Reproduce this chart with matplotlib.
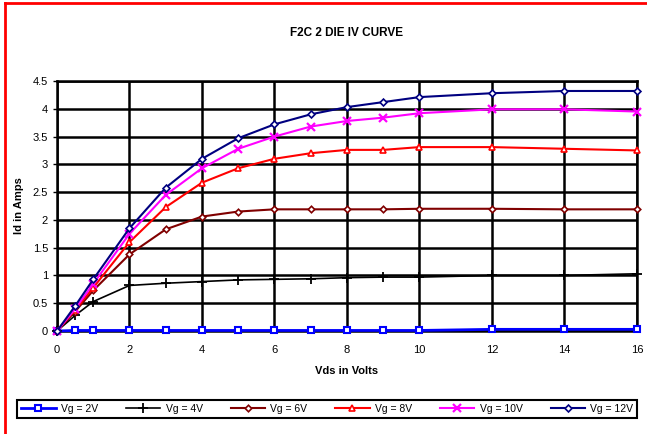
import numpy as np
import matplotlib.pyplot as plt
from matplotlib.lines import Line2D

plt.rcParams['font.family'] = ['Liberation Sans', 'DejaVu Sans']

# drain voltage points (V)
vds = [0, 0.5, 1, 2, 3, 4, 5, 6, 7, 8, 9, 10, 12, 14, 16]

# drain current (A) per gate voltage
id_vg2 = [0, 0.01, 0.01, 0.01, 0.01, 0.01, 0.01, 0.01, 0.01, 0.01, 0.01, 0.01, 0.03, 0.03, 0.03]
id_vg4 = [0, 0.28, 0.53, 0.82, 0.86, 0.89, 0.92, 0.93, 0.94, 0.96, 0.97, 0.97, 1.0, 1.0, 1.03]
id_vg6 = [0, 0.35, 0.73, 1.38, 1.83, 2.06, 2.15, 2.19, 2.19, 2.19, 2.19, 2.2, 2.2, 2.19, 2.19]
id_vg8 = [0, 0.38, 0.78, 1.6, 2.23, 2.67, 2.93, 3.1, 3.2, 3.26, 3.26, 3.31, 3.31, 3.28, 3.25]
id_vg10 = [0, 0.4, 0.85, 1.75, 2.45, 2.93, 3.28, 3.5, 3.68, 3.78, 3.84, 3.92, 3.99, 3.99, 3.95]
id_vg12 = [0, 0.45, 0.93, 1.85, 2.58, 3.1, 3.47, 3.72, 3.9, 4.03, 4.12, 4.21, 4.28, 4.32, 4.32]

labels = ['Vg = 2V', 'Vg = 4V', 'Vg = 6V', 'Vg = 8V', 'Vg = 10V', 'Vg = 12V']

xticks = [0, 2, 4, 6, 8, 10, 12, 14, 16]
yticks = [0, 0.5, 1, 1.5, 2, 2.5, 3, 3.5, 4, 4.5]


fig = plt.figure(figsize=(6.47, 4.34), dpi=100)
ax = fig.add_axes([0.0881, 0.2373, 0.8964, 0.5761])

series = [id_vg2, id_vg4, id_vg6, id_vg8, id_vg10, id_vg12]
styles = [
    dict(color='#0000ff', marker='s', ms=4.5, mfc='white', mew=1.5, lw=2.0),
    dict(color='black', marker='+', ms=7, mew=1.3, lw=1.2),
    dict(color='#800000', marker='D', ms=3.3, mfc='white', mew=1.2, lw=1.5),
    dict(color='#ff0000', marker='^', ms=4.5, mfc='white', mew=1.2, lw=1.5),
    dict(color='#ff00ff', marker='x', ms=6, mew=1.6, lw=1.5),
    dict(color='#000080', marker='D', ms=3.5, mfc='white', mew=1.2, lw=1.5),
]
for vals, lab, st in zip(series, labels, styles):
    ax.plot(vds, vals, label=lab, clip_on=False, zorder=3, **st)

ax.set_xlim(0, 16)
ax.set_ylim(0, 4.5)
ax.set_xticks(xticks)
ax.set_xticklabels([str(t) for t in xticks])
ax.set_yticks(yticks)
ax.set_yticklabels([f'{t:g}' for t in yticks])
ax.grid(True, color='black', lw=1.8)
ax.set_axisbelow(True)
for s in ax.spines.values():
    s.set_color('black')
    s.set_linewidth(1.8)
ax.tick_params(axis='both', labelsize=8, color='black', width=1, length=3)
ax.tick_params(axis='x', pad=10, length=0)

ax.set_xlabel('Vds in Volts', fontsize=8, fontweight='bold', labelpad=8)
ax.set_ylabel('Id in Amps', fontsize=8, fontweight='bold', labelpad=6)
fig.text(0.536, 0.924, 'F2C 2 DIE IV CURVE', ha='center', va='center',
         fontsize=8.5, fontweight='bold')

leg = ax.legend(loc='center', ncol=6, mode='expand',
                bbox_to_anchor=(0.0263, 0.0138, 0.9587, 0.0876),
                bbox_transform=fig.transFigure, fontsize=7.5,
                handlelength=3.3, handletextpad=0.5, columnspacing=0.8,
                fancybox=False, framealpha=1, borderaxespad=0)
leg.get_frame().set_edgecolor('black')
leg.get_frame().set_linewidth(1.5)

# red border along top and left edge
fig.add_artist(Line2D([5 / 647, 1], [1 - 3 / 434, 1 - 3 / 434],
                      transform=fig.transFigure, color='red', lw=2))
fig.add_artist(Line2D([5 / 647, 5 / 647], [0, 1 - 3 / 434],
                      transform=fig.transFigure, color='red', lw=2))

fig.savefig('out.png', dpi=100)
